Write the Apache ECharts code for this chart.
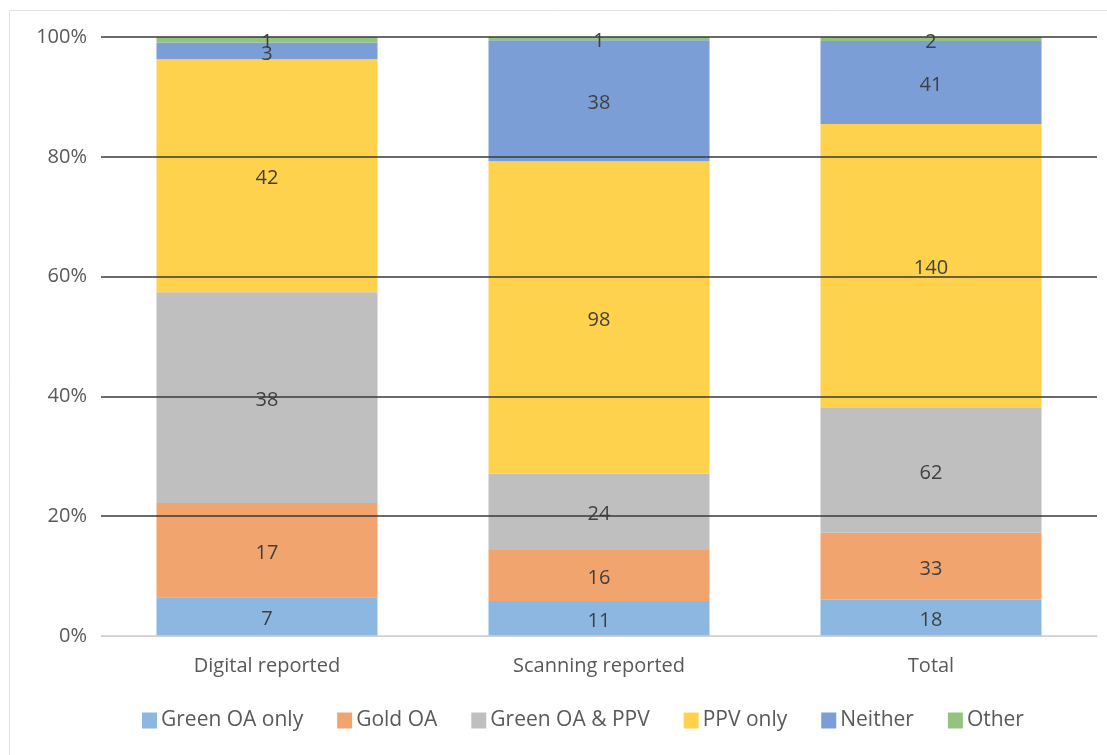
<!DOCTYPE html>
<html>
<head>
<meta charset="utf-8">
<script src="https://cdn.jsdelivr.net/npm/echarts@6/dist/echarts.min.js"></script>
<style>
  html, body { margin: 0; padding: 0; background: #fff; }
  #chart { width: 1107px; height: 755px; }
</style>
</head>
<body>
<div id="chart"></div>
<script>
var categories = ['Digital reported', 'Scanning reported', 'Total'];
var seriesNames = ['Green OA only', 'Gold OA', 'Green OA & PPV', 'PPV only', 'Neither', 'Other'];
var greenOnly = [7, 11, 18];
var goldOA = [17, 16, 33];
var greenPPV = [38, 24, 62];
var ppvOnly = [42, 98, 140];
var neither = [3, 38, 41];
var other = [1, 1, 2];
var colors = ['#8cb7e0', '#f2a46e', '#bfbfbf', '#ffd24d', '#7b9ed6', '#93c47d'];

var counts = [greenOnly, goldOA, greenPPV, ppvOnly, neither, other];
var totals = categories.map(function (c, i) {
    return counts.reduce(function (s, arr) { return s + arr[i]; }, 0);
});

var font = '"Open Sans", sans-serif';

var chart = echarts.init(document.getElementById('chart'));
chart.setOption({
    animation: false,
    textStyle: { fontFamily: font },
    grid: { left: 101, right: 10, top: 37, bottom: 119 },
    graphic: [{
        type: 'rect',
        shape: { x: 9.5, y: 10.5, width: 1200, height: 800 },
        style: { fill: 'none', stroke: '#e3e3e3', lineWidth: 1 },
        silent: true
    }],
    xAxis: {
        type: 'category',
        data: categories,
        axisLine: { lineStyle: { color: '#d0d0d0' } },
        axisTick: { show: false },
        axisLabel: { color: '#595959', fontSize: 20, margin: 20, fontFamily: font }
    },
    yAxis: {
        type: 'value',
        min: 0,
        max: 100,
        interval: 20,
        z: 5,
        axisLine: { show: false },
        axisTick: { show: false },
        axisLabel: { color: '#595959', fontSize: 20, formatter: '{value}%', margin: 14, fontFamily: font },
        splitLine: { lineStyle: { color: ['#d0d0d0', '#3a3a3a', '#3a3a3a', '#3a3a3a', '#3a3a3a', '#3a3a3a'], width: 1.5 } }
    },
    legend: {
        bottom: 19,
        left: 137,
        itemWidth: 15,
        itemHeight: 16,
        itemGap: 34,
        icon: 'rect',
        textStyle: { color: '#595959', fontSize: 21, fontFamily: font, padding: [0, 0, 0, -1] },
        data: seriesNames
    },
    series: seriesNames.map(function (name, k) {
        return {
            name: name,
            type: 'bar',
            stack: 'all',
            barWidth: 221,
            itemStyle: { color: colors[k] },
            label: {
                show: true,
                position: 'inside',
                offset: [0, 3],
                color: '#404040',
                fontSize: 20,
                fontFamily: font,
                formatter: function (p) { return counts[k][p.dataIndex]; }
            },
            data: counts[k].map(function (v, i) { return v / totals[i] * 100; })
        };
    })
});
</script>
</body>
</html>
